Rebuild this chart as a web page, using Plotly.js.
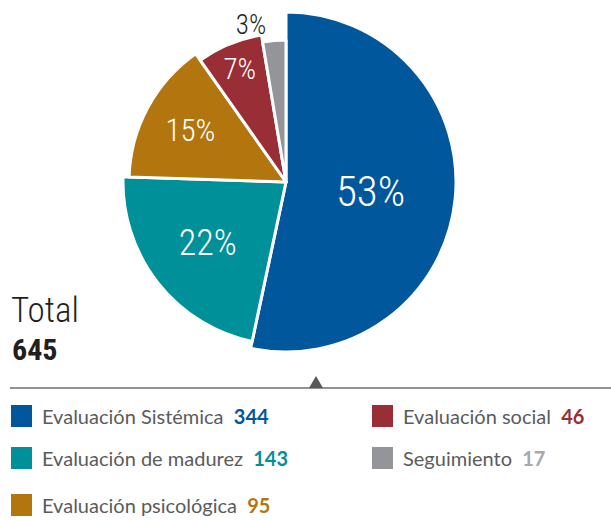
<!DOCTYPE html>
<html><head><meta charset="utf-8">
<script src="https://cdn.plot.ly/plotly-3.0.1.min.js"></script>
<style>html,body{margin:0;padding:0;background:#fff}#chart{width:611px;height:520px}</style>
</head><body><div id="chart"></div><script>
// ---- data ----
const categories = ['Evaluación Sistémica', 'Evaluación de madurez', 'Evaluación psicológica', 'Evaluación social', 'Seguimiento'];
const values = [344, 143, 95, 46, 17];
const totalLabel = 'Total';
const totalValue = 645;

// ---- style ----
const colors = ['#01579b', '#00909a', '#b3760f', '#9a2e36', '#939598'];
const valueColors = ['#01579b', '#00909a', '#b3760f', '#9a2e36', '#a7a9ac'];
const radii = [170, 163, 157, 149, 142];
const labelSizes = [43, 36, 31, 29, 27];
const W = 611, H = 520, cx = 286, cy = 182;
const narrow = 'Roboto Condensed, sans-serif';
const px = x => x / W, py = y => 1 - y / H;

const traces = categories.map((c, i) => ({
  type: 'pie', values: values, labels: categories, sort: false,
  direction: 'clockwise', rotation: 0,
  domain: {x: [px(cx - radii[i]), px(cx + radii[i])], y: [py(cy + radii[i]), py(cy - radii[i])]},
  marker: {
    colors: colors.map((col, j) => j === i ? col : 'rgba(0,0,0,0)'),
    line: {color: '#ffffff', width: values.map((v, j) => j === i ? 3 : 0)}
  },
  textposition: values.map((v, j) => j !== i ? 'none' : (j === 4 ? 'outside' : 'inside')),
  texttemplate: '%{percent:.0%}',
  insidetextorientation: 'horizontal',
  insidetextfont: {color: '#ffffff', size: labelSizes[i], family: narrow, weight: 300},
  outsidetextfont: {color: '#231f20', size: labelSizes[i], family: narrow, weight: 300},
  hoverinfo: 'skip', showlegend: false
}));

// legend built from the category arrays
const colX = [11, 372], rowY = [416, 458, 505];
const annotations = [], shapes = [];
categories.forEach((c, i) => {
  const col = i < 3 ? 0 : 1, row = i < 3 ? i : i - 3;
  const x = colX[col], y = rowY[row];
  shapes.push({type: 'rect', xref: 'paper', yref: 'paper', x0: px(x), x1: px(x + 21), y0: py(y + 11), y1: py(y - 11),
    fillcolor: colors[i], line: {width: 0}});
  annotations.push({xref: 'paper', yref: 'paper', x: px(x + 29), y: py(y), xanchor: 'left', yanchor: 'middle', showarrow: false,
    text: c + '&nbsp;&nbsp;<b><span style="color:' + valueColors[i] + '">' + values[i] + '</span></b>',
    font: {family: 'Lato, sans-serif', size: 20, color: '#5a5b5d'}});
});
annotations.push({xref: 'paper', yref: 'paper', x: px(9), y: py(310), xanchor: 'left', yanchor: 'middle', showarrow: false,
  text: totalLabel, font: {family: narrow, size: 35, weight: 300, color: '#231f20'}});
annotations.push({xref: 'paper', yref: 'paper', x: px(10), y: py(349), xanchor: 'left', yanchor: 'middle', showarrow: false,
  text: '<b>' + totalValue + '</b>', font: {family: narrow, size: 30, color: '#231f20'}});
shapes.push({type: 'line', xref: 'paper', yref: 'paper', x0: px(10), x1: 1, y0: py(388), y1: py(388), line: {color: '#6d6e70', width: 1.5}});
shapes.push({type: 'path', xref: 'paper', yref: 'paper',
  path: 'M' + px(309) + ',' + py(388) + ' L' + px(316) + ',' + py(376) + ' L' + px(323) + ',' + py(388) + ' Z',
  fillcolor: '#58595b', line: {width: 0}});

const layout = {
  width: W, height: H, margin: {l: 0, r: 0, t: 0, b: 0},
  paper_bgcolor: '#ffffff', plot_bgcolor: '#ffffff', showlegend: false,
  annotations: annotations, shapes: shapes
};
Plotly.newPlot('chart', traces, layout, {displayModeBar: false, staticPlot: true});
</script></body></html>
